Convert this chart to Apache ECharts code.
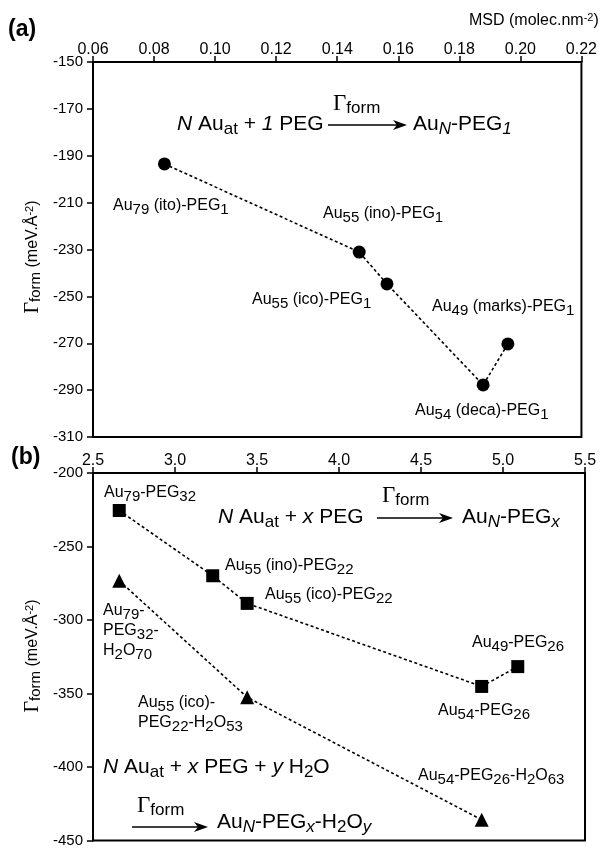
<!DOCTYPE html>
<html><head><meta charset="utf-8">
<script src="https://cdn.jsdelivr.net/npm/echarts@6/dist/echarts.min.js"></script>
<style>html,body{margin:0;padding:0;background:#fff}#c{width:600px;height:848px}</style>
</head><body><div id="c"></div>
<script>
// ---------- data ----------
// panel (a): one PEG, x = MSD (molec.nm-2), y = Γform (meV.Å-2)
const aMSD   = [0.0834, 0.1472, 0.1563, 0.1878, 0.1959];
const aGamma = [-193.5, -231.1, -244.7, -287.8, -270.3];
const aNames = [
  '{n|Au}{s|79}{n| (ito)-PEG}{s|1}',
  '{n|Au}{s|55}{n| (ino)-PEG}{s|1}',
  '{n|Au}{s|55}{n| (ico)-PEG}{s|1}',
  '{n|Au}{s|54}{n| (deca)-PEG}{s|1}',
  '{n|Au}{s|49}{n| (marks)-PEG}{s|1}'
];
// panel (b): full PEG coverage (squares) and PEG + water (triangles)
const bSqMSD   = [2.66, 3.23, 3.44, 4.87, 5.09];
const bSqGamma = [-225.5, -269.9, -288.7, -345.2, -331.7];
const bSqNames = [
  '{n|Au}{s|79}{n|-PEG}{s|32}',
  '{n|Au}{s|55}{n| (ino)-PEG}{s|22}',
  '{n|Au}{s|55}{n| (ico)-PEG}{s|22}',
  '{n|Au}{s|54}{n|-PEG}{s|26}',
  '{n|Au}{s|49}{n|-PEG}{s|26}'
];
const bTriMSD   = [2.66, 3.44, 4.87];
const bTriGamma = [-273.3, -352.6, -435.9];
const bTriNames = [
  ['{n|Au}{s|79}{n|-}', '{n|PEG}{s|32}{n|-}', '{n|H}{s|2}{n|O}{s|70}'],
  ['{n|Au}{s|55}{n| (ico)-}', '{n|PEG}{s|22}{n|-H}{s|2}{n|O}{s|53}'],
  ['{n|Au}{s|54}{n|-PEG}{s|26}{n|-H}{s|2}{n|O}{s|63}']
];
// axes
const aXAxis = {min: 0.06, max: 0.22, step: 0.02};
const aYAxis = {min: -310, max: -150, step: 20};
const bXAxis = {min: 2.5, max: 5.5, step: 0.5};
const bYAxis = {min: -450, max: -200, step: 50};
// equations
const eqA1 = '{i|N}{n| Au}{s|at}{n| + }{i|1}{n| PEG}';
const eqA2 = '{n|Au}{si|N}{n|-PEG}{si|1}';
const eqB1 = '{i|N}{n| Au}{s|at}{n| + }{i|x}{n| PEG}';
const eqB2 = '{n|Au}{si|N}{n|-PEG}{si|x}';
const eqC1 = '{i|N}{n| Au}{s|at}{n| + }{i|x}{n| PEG + }{i|y}{n| H}{s|2}{n|O}';
const eqC2 = '{n|Au}{si|N}{n|-PEG}{si|x}{n|-H}{s|2}{n|O}{si|y}';
const gammaForm = '{g|Γ}{s|form}';
const yName = '{g|Γ}{s|form}{n| (meV.Å}{p|-2}{n|)}';
const msdName = '{n|MSD (molec.nm}{p|-2}{n|)}';

// ---------- styles ----------
const SANS = 'Liberation Sans, Arial, Helvetica, sans-serif';
const SERIF = 'Liberation Serif, Times New Roman, serif';
function rich(base, sub, sup, shift, gsize) {
  const lh = base + 2;
  return {
    n:  {fontFamily: SANS, fontSize: base, lineHeight: lh, fill: '#000'},
    i:  {fontFamily: SANS, fontSize: base, lineHeight: lh, fontStyle: 'italic', fill: '#000'},
    s:  {fontFamily: SANS, fontSize: sub, lineHeight: lh, padding: [2 * shift, 0, 0, 0], fill: '#000'},
    si: {fontFamily: SANS, fontSize: sub, lineHeight: lh, fontStyle: 'italic', padding: [2 * shift, 0, 0, 0], fill: '#000'},
    p:  {fontFamily: SANS, fontSize: sup, lineHeight: lh, padding: [0, 0, 2 * shift, 0], fill: '#000'},
    g:  {fontFamily: SERIF, fontSize: gsize || base, lineHeight: lh, fill: '#000'}
  };
}
const RL = rich(16, 15, 11, 4);        // point labels
const RE = rich(21, 17, 13, 5);        // equations
const RG = rich(17, 17, 13, 4, 23);    // Γform above arrows
const RY = rich(16, 15, 11, 3, 20);    // axis names

function txt(x, y, text, r, extra) {
  return Object.assign({
    type: 'text', x: x, y: y, z: 50,
    style: {text: text, rich: r, fill: '#000',
      align: 'left', verticalAlign: 'middle', textAlign: 'left', textVerticalAlign: 'middle'}
  }, extra || {});
}
function arrow(x1, x2, y) {
  return [
    {type: 'line', z: 50, shape: {x1: x1, y1: y, x2: x2 - 6, y2: y}, style: {stroke: '#000', lineWidth: 1.3}},
    {type: 'polygon', z: 50, shape: {points: [[x2, y], [x2 - 14, y - 5], [x2 - 10, y], [x2 - 14, y + 5]]}, style: {fill: '#000'}}
  ];
}

// ---------- layout of annotations ----------
const aLabelPos = [[113, 206], [323, 214], [252, 300], [415, 411], [432, 307]];
const bSqLabelPos = [[104, 493], [225, 566], [265, 595], [438, 711], [472, 643]];
const bTriLabelPos = [[103, 611, 20], [138, 703, 20], [418, 776, 20]];

const graphics = [];
graphics.push(txt(8, 30, '(a)', null, {style: {text: '(a)', font: 'bold 23px ' + SANS, fill: '#000', align: 'left', verticalAlign: 'middle', textAlign: 'left', textVerticalAlign: 'middle'}}));
graphics.push(txt(11, 458, '(b)', null, {style: {text: '(b)', font: 'bold 23px ' + SANS, fill: '#000', align: 'left', verticalAlign: 'middle', textAlign: 'left', textVerticalAlign: 'middle'}}));
graphics.push(txt(469, 21, msdName, RY));
aNames.forEach((t, k) => graphics.push(txt(aLabelPos[k][0], aLabelPos[k][1], t, RL)));
bSqNames.forEach((t, k) => graphics.push(txt(bSqLabelPos[k][0], bSqLabelPos[k][1], t, RL)));
bTriNames.forEach((lines, k) => lines.forEach((t, j) =>
  graphics.push(txt(bTriLabelPos[k][0], bTriLabelPos[k][1] + j * bTriLabelPos[k][2], t, RL))));
// equations
graphics.push(txt(177, 124, eqA1, RE));
graphics.push(txt(333, 104, gammaForm, RG));
graphics.push(...arrow(328, 407, 125));
graphics.push(txt(413, 124, eqA2, RE));
graphics.push(txt(218, 517, eqB1, RE));
graphics.push(txt(382, 496, gammaForm, RG));
graphics.push(...arrow(377, 453, 518));
graphics.push(txt(462, 517, eqB2, RE));
graphics.push(txt(103, 767, eqC1, RE));
graphics.push(txt(137, 806, gammaForm, RG));
graphics.push(...arrow(132, 208, 827));
graphics.push(txt(217, 822, eqC2, RE));
// rotated y-axis names
graphics.push(txt(33, 257, yName, RY, {rotation: Math.PI / 2, style: {text: yName, rich: RY, fill: '#000', align: 'center', verticalAlign: 'middle', textAlign: 'center', textVerticalAlign: 'middle'}}));
graphics.push(txt(33, 656, yName, RY, {rotation: Math.PI / 2, style: {text: yName, rich: RY, fill: '#000', align: 'center', verticalAlign: 'middle', textAlign: 'center', textVerticalAlign: 'middle'}}));

// ---------- chart ----------
const axisLine = {show: true, onZero: false, lineStyle: {color: '#000', width: 2}};
const axisTick = {show: true, inside: false, length: 6, lineStyle: {color: '#000', width: 1.5}};
function xAx(idx, ax, dec) {
  return {type: 'value', gridIndex: idx, position: 'top', min: ax.min, max: ax.max, interval: ax.step,
    axisLine: axisLine, axisTick: axisTick, splitLine: {show: false},
    axisLabel: {color: '#000', fontSize: 16, fontFamily: SANS, margin: 4, formatter: v => v.toFixed(dec)}};
}
function yAx(idx, ax) {
  return {type: 'value', gridIndex: idx, min: ax.min, max: ax.max, interval: ax.step,
    axisLine: axisLine, axisTick: axisTick, splitLine: {show: false},
    axisLabel: {color: '#000', fontSize: 15, fontFamily: SANS, margin: 10}};
}
const dotted = {color: '#000', width: 1.6, type: [3, 2.5]};
function ser(xi, xs, ys, symbol, size) {
  return {type: 'line', xAxisIndex: xi, yAxisIndex: xi, data: xs.map((x, k) => [x, ys[k]]),
    symbol: symbol, symbolSize: size, showAllSymbol: true, lineStyle: dotted,
    itemStyle: {color: '#000', borderWidth: 0}, animation: false, z: 10, clip: false};
}
const chart = echarts.init(document.getElementById('c'), null, {renderer: 'canvas'});
chart.setOption({
  backgroundColor: '#fff',
  animation: false,
  grid: [
    {left: 93, top: 62, width: 492, height: 375, show: true, borderColor: '#000', borderWidth: 2, backgroundColor: 'transparent'},
    {left: 93, top: 473, width: 492, height: 372, show: true, borderColor: '#000', borderWidth: 2, backgroundColor: 'transparent'}
  ],
  xAxis: [xAx(0, aXAxis, 2), xAx(1, bXAxis, 1)],
  yAxis: [yAx(0, aYAxis), yAx(1, bYAxis)],
  series: [
    ser(0, aMSD, aGamma, 'circle', 13),
    ser(1, bSqMSD, bSqGamma, 'rect', 13),
    ser(1, bTriMSD, bTriGamma, 'triangle', 14)
  ],
  graphic: graphics
});
</script></body></html>
